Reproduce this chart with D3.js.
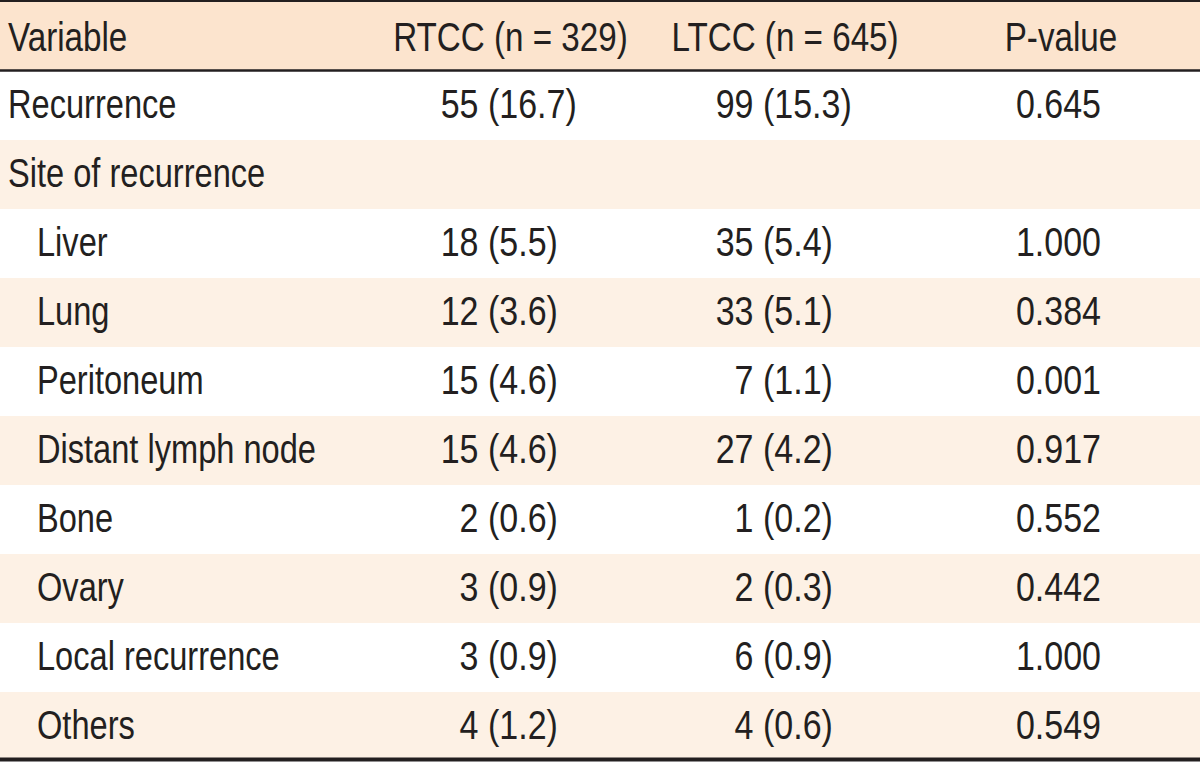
<!DOCTYPE html>
<html>
<head>
<meta charset="utf-8">
<script src="https://cdn.jsdelivr.net/npm/d3@7"></script>
<style>
  html, body { margin: 0; padding: 0; background: #ffffff; }
  svg { display: block; }
  text { font-family: "Liberation Sans", Arial, sans-serif; fill: #231f20; }
</style>
</head>
<body>
<svg id="chart" width="1200" height="762"></svg>
<script>
// ---- data ----
const headers = ["Variable", "RTCC (n = 329)", "LTCC (n = 645)", "P-value"];
const variables = ["Recurrence", "Site of recurrence", "Liver", "Lung", "Peritoneum",
  "Distant lymph node", "Bone", "Ovary", "Local recurrence", "Others"];
const indented = [false, false, true, true, true, true, true, true, true, true];
const rtccCount = [55, null, 18, 12, 15, 15, 2, 3, 3, 4];
const rtccPct = ["16.7", null, "5.5", "3.6", "4.6", "4.6", "0.6", "0.9", "0.9", "1.2"];
const ltccCount = [99, null, 35, 33, 7, 27, 1, 2, 6, 4];
const ltccPct = ["15.3", null, "5.4", "5.1", "1.1", "4.2", "0.2", "0.3", "0.9", "0.6"];
const pValues = ["0.645", null, "1.000", "0.384", "0.001", "0.917", "0.552", "0.442", "1.000", "0.549"];

// ---- layout ----
const W = 1200;
const headerTop = 2, headerBottom = 70;
const bodyTop = 71, rowH = 69;
const fontSize = 40;
const sxLabel = 0.815, sxNum = 0.85, sxHead = 0.83;

const svg = d3.select("#chart");

const y = d3.scaleBand()
  .domain(d3.range(variables.length))
  .range([bodyTop, bodyTop + rowH * variables.length])
  .paddingInner(0).paddingOuter(0);

// header background
svg.append("rect").attr("x", 0).attr("y", headerTop).attr("width", W)
  .attr("height", headerBottom - headerTop).attr("fill", "#fce4ce");

// row backgrounds
svg.selectAll("rect.row").data(variables).enter().append("rect")
  .attr("class", "row")
  .attr("x", 0).attr("y", (d, i) => y(i))
  .attr("width", W).attr("height", y.bandwidth())
  .attr("fill", (d, i) => i % 2 === 1 ? "#fdf1e5" : "#ffffff");

// lines
svg.append("line").attr("x1", 0).attr("x2", W).attr("y1", 1).attr("y2", 1)
  .attr("stroke", "#231f20").attr("stroke-width", 2);
svg.append("line").attr("x1", 0).attr("x2", W).attr("y1", 70.5).attr("y2", 70.5)
  .attr("stroke", "#231f20").attr("stroke-width", 2.5);
svg.append("line").attr("x1", 0).attr("x2", W).attr("y1", 759.5).attr("y2", 759.5)
  .attr("stroke", "#231f20").attr("stroke-width", 4);

function place(sel, fx, fy, sx) {
  return sel.attr("transform", (d, i) => `translate(${fx(d, i)},${fy(d, i)}) scale(${sx},1)`)
    .attr("font-size", fontSize);
}

// header text
const headerX = [8, 510.5, 785, 1061];
const headerAnchor = ["start", "middle", "middle", "middle"];
place(svg.selectAll("text.hdr").data(headers).enter().append("text").attr("class", "hdr"),
  (d, i) => headerX[i], () => 50.5, sxHead)
  .attr("text-anchor", (d, i) => headerAnchor[i])
  .text(d => d);

const baseOff = 47;

// variable names
place(svg.selectAll("text.var").data(variables).enter().append("text").attr("class", "var"),
  (d, i) => indented[i] ? 37 : 8, (d, i) => y(i) + baseOff, sxLabel)
  .text(d => d);

function countPct(counts, pcts, countEnd, pctStart, cls) {
  place(svg.selectAll("text." + cls + "c").data(counts).enter().append("text").attr("class", cls + "c"),
    () => countEnd, (d, i) => y(i) + baseOff, sxNum)
    .attr("text-anchor", "end")
    .text(d => d == null ? "" : d);
  place(svg.selectAll("text." + cls + "p").data(pcts).enter().append("text").attr("class", cls + "p"),
    () => pctStart, (d, i) => y(i) + baseOff, sxNum)
    .attr("text-anchor", "start")
    .text(d => d == null ? "" : "(" + d + ")");
}
countPct(rtccCount, rtccPct, 478.5, 488, "r");
countPct(ltccCount, ltccPct, 753.5, 763, "l");

place(svg.selectAll("text.pv").data(pValues).enter().append("text").attr("class", "pv"),
  () => 1058.5, (d, i) => y(i) + baseOff, sxNum)
  .attr("text-anchor", "middle")
  .text(d => d == null ? "" : d);
</script>
</body>
</html>
